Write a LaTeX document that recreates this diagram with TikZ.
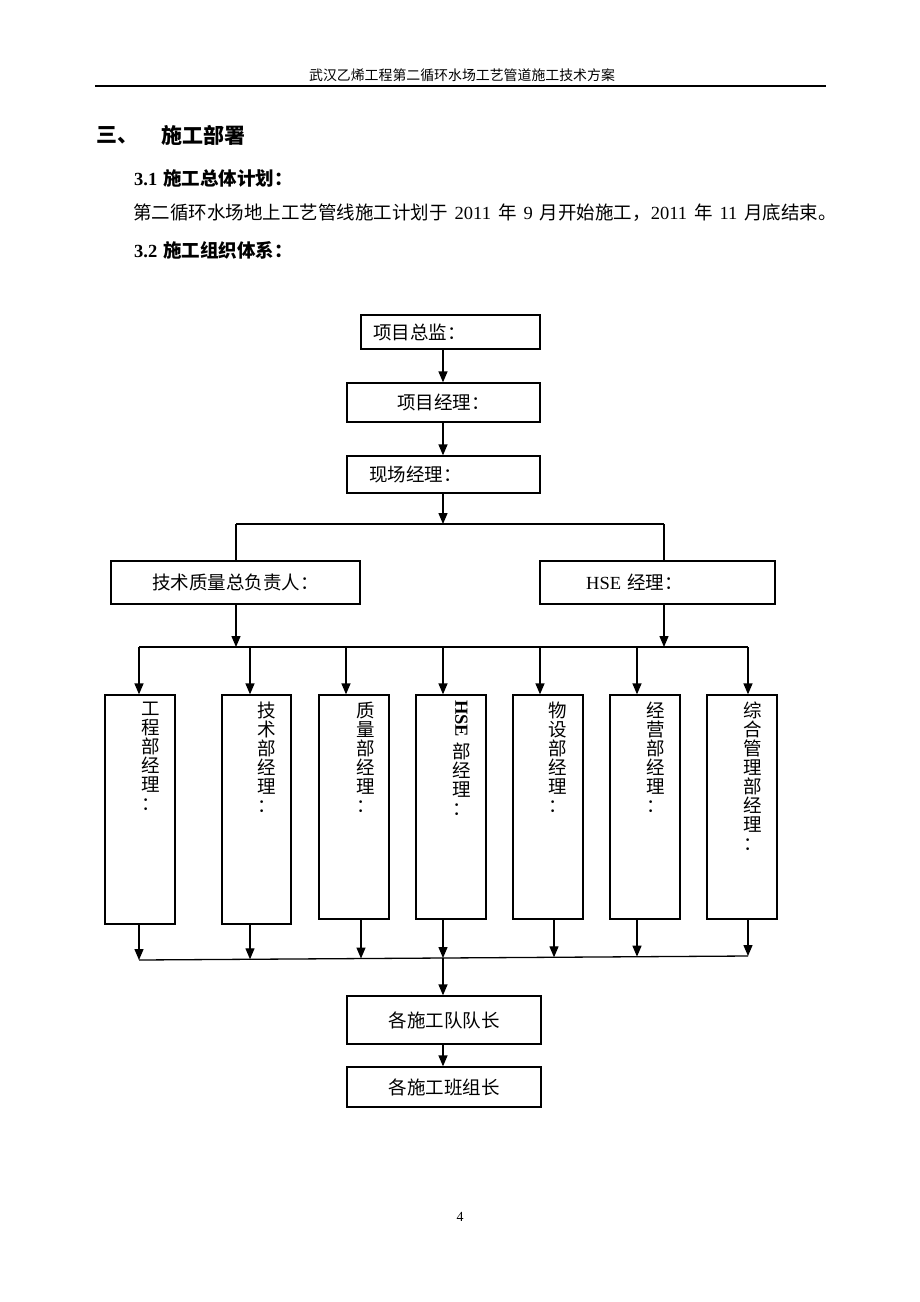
\documentclass[tikz,border=0pt]{standalone}
\usepackage{fontspec}
\setmainfont{Liberation Serif}
\newfontfamily\cjk{Noto Sans CJK SC}
\usetikzlibrary{arrows.meta}
\newcommand\latn[1]{{\rmfamily #1}}
\newcommand\gap{\hspace{7pt}}
\begin{document}
\begin{tikzpicture}[x=1pt,y=-1pt,
  box/.style={draw, line width=1.3pt, inner sep=0pt},
  arr/.style={line width=1.3pt, -{Triangle[length=11pt,width=9pt]}},
  ln/.style={line width=1.3pt},
  txt/.style={font=\cjk\fontsize{18.5}{19}\selectfont, inner sep=0pt},
  vtxt/.style={txt, anchor=north, align=center},
]
\useasboundingbox (0,0) rectangle (920,1302);
\fill[white] (0,0) rectangle (920,1302);

% header
\node[inner sep=0pt, font=\cjk\fontsize{13.9}{16}\selectfont] (hdr) at (462,75) {武汉乙烯工程第二循环水场工艺管道施工技术方案};
\coordinate (rl) at (95,86); \coordinate (rr) at (826,86);
\draw[line width=1.8pt] (rl) -- (rr);

% headings and text
\node[anchor=west, inner sep=0pt, font=\cjk\bfseries\fontsize{21}{24}\selectfont] (h3) at (96,135) {三、};
\node[anchor=west, inner sep=0pt, font=\cjk\bfseries\fontsize{21}{24}\selectfont] (h3b) at (161,135) {施工部署};
\node[anchor=west, inner sep=0pt, font=\cjk\bfseries\fontsize{18.5}{22}\selectfont] (h31) at (134,178) {\latn{3.1}\hspace{6pt}施工总体计划：};
\node[anchor=west, inner sep=0pt, font=\cjk\fontsize{18.5}{22}\selectfont] (p1) at (133,213) {第二循环水场地上工艺管线施工计划于\gap\latn{2011}\gap 年\gap\latn{9}\gap 月开始施工，\latn{2011}\gap 年\gap\latn{11}\gap 月底结束。};
\node[anchor=west, inner sep=0pt, font=\cjk\bfseries\fontsize{18.5}{22}\selectfont] (h32) at (134,250) {\latn{3.2}\hspace{6pt}施工组织体系：};

% boxes
\node[box, minimum width=179pt, minimum height=34pt] (A) at (450.5,332) {};
\node[box, minimum width=193pt, minimum height=39pt] (B) at (443.5,402.5) {};
\node[box, minimum width=193pt, minimum height=37pt] (C) at (443.5,474.5) {};
\node[box, minimum width=249pt, minimum height=43pt] (D) at (235.5,582.5) {};
\node[box, minimum width=235pt, minimum height=43pt] (E) at (657.5,582.5) {};
\node[box, minimum width=70pt, minimum height=229pt] (F1) at (140,809.5) {};
\node[box, minimum width=69pt, minimum height=229pt] (F2) at (256.5,809.5) {};
\node[box, minimum width=70pt, minimum height=224pt] (F3) at (354,807) {};
\node[box, minimum width=70pt, minimum height=224pt] (F4) at (451,807) {};
\node[box, minimum width=70pt, minimum height=224pt] (F5) at (548,807) {};
\node[box, minimum width=70pt, minimum height=224pt] (F6) at (645,807) {};
\node[box, minimum width=70pt, minimum height=224pt] (F7) at (742,807) {};
\node[box, minimum width=194pt, minimum height=48pt] (G) at (444,1020) {};
\node[box, minimum width=194pt, minimum height=40pt] (H) at (444,1087) {};

% box texts
\node[txt, anchor=west] (tA) at (373,332) {项目总监：};
\node[txt] (tB) at (443.5,402.5) {项目经理：};
\node[txt, anchor=west] (tC) at (369,474.5) {现场经理：};
\node[txt] (tD) at (235.5,582.5) {技术质量总负责人：};
\node[txt, anchor=west] (tE) at (586,582.5) {\latn{HSE}\hspace{6pt}经理：};
\node[txt] (tG) at (444,1020) {各施工队队长};
\node[txt] (tH) at (444,1087) {各施工班组长};

\node[vtxt] (v1) at (150.4,702) {工\\程\\部\\经\\理\\：};
\node[vtxt] (v2) at (267,702) {技\\术\\部\\经\\理\\：};
\node[vtxt] (v3) at (365.3,702) {质\\量\\部\\经\\理\\：};
\node[inner sep=0pt, rotate=-90, font=\rmfamily\bfseries\fontsize{18.5}{19}\selectfont] (v4a) at (461.3,718.5) {HSE};
\node[vtxt] (v4) at (461.3,743) {部\\经\\理\\：};
\node[vtxt] (v5) at (558.2,702) {物\\设\\部\\经\\理\\：};
\node[vtxt] (v6) at (655.6,702) {经\\营\\部\\经\\理\\：};
\node[vtxt] (v7) at (752.5,702) {综\\合\\管\\理\\部\\经\\理\\：};

% connectors top
\coordinate (xa) at (443,0);
\draw[arr] (A.south -| xa) -- (B.north -| xa);
\draw[arr] (B.south -| xa) -- (C.north -| xa);
\coordinate (s1) at (443,524); \coordinate (sl) at (236,524); \coordinate (sr) at (664,524);
\draw[arr] (C.south -| s1) -- (s1);
\draw[ln] (sl) -- (sr);
\draw[ln] (sl) -- (sl |- D.north);
\draw[ln] (sr) -- (sr |- E.north);
\coordinate (m1) at (236,647); \coordinate (m2) at (664,647);
\draw[arr] (D.south -| m1) -- (m1);
\draw[arr] (E.south -| m2) -- (m2);
\coordinate (hl) at (139,647); \coordinate (hr) at (748,647);
\draw[ln] (hl) -- (hr);
\coordinate (t1) at (139,647); \coordinate (t2) at (250,647); \coordinate (t3) at (346,647);
\coordinate (t4) at (443,647); \coordinate (t5) at (540,647); \coordinate (t6) at (637,647);
\coordinate (t7) at (748,647);
\draw[arr] (t1) -- (t1 |- F1.north);
\draw[arr] (t2) -- (t2 |- F2.north);
\draw[arr] (t3) -- (t3 |- F3.north);
\draw[arr] (t4) -- (t4 |- F4.north);
\draw[arr] (t5) -- (t5 |- F5.north);
\draw[arr] (t6) -- (t6 |- F6.north);
\draw[arr] (t7) -- (t7 |- F7.north);

% connectors bottom
\coordinate (b1) at (139,960); \coordinate (b2) at (250,959.3); \coordinate (b3) at (361,958.5);
\coordinate (b4) at (443,958); \coordinate (b5) at (554,957.3); \coordinate (b6) at (637,956.7);
\coordinate (b7) at (748,956);
\draw[ln] (b1) -- (b7);
\draw[arr] (F1.south -| b1) -- (b1);
\draw[arr] (F2.south -| b2) -- (b2);
\draw[arr] (F3.south -| b3) -- (b3);
\draw[arr] (F4.south -| b4) -- (b4);
\draw[arr] (F5.south -| b5) -- (b5);
\draw[arr] (F6.south -| b6) -- (b6);
\draw[arr] (F7.south -| b7) -- (b7);
\draw[arr] (b4) -- (b4 |- G.north);
\draw[arr] (G.south -| b4) -- (H.north -| b4);

% page number
\node[inner sep=0pt, font=\fontsize{13.9}{16}\selectfont] (pg) at (460,1217) {4};
\end{tikzpicture}
\end{document}
